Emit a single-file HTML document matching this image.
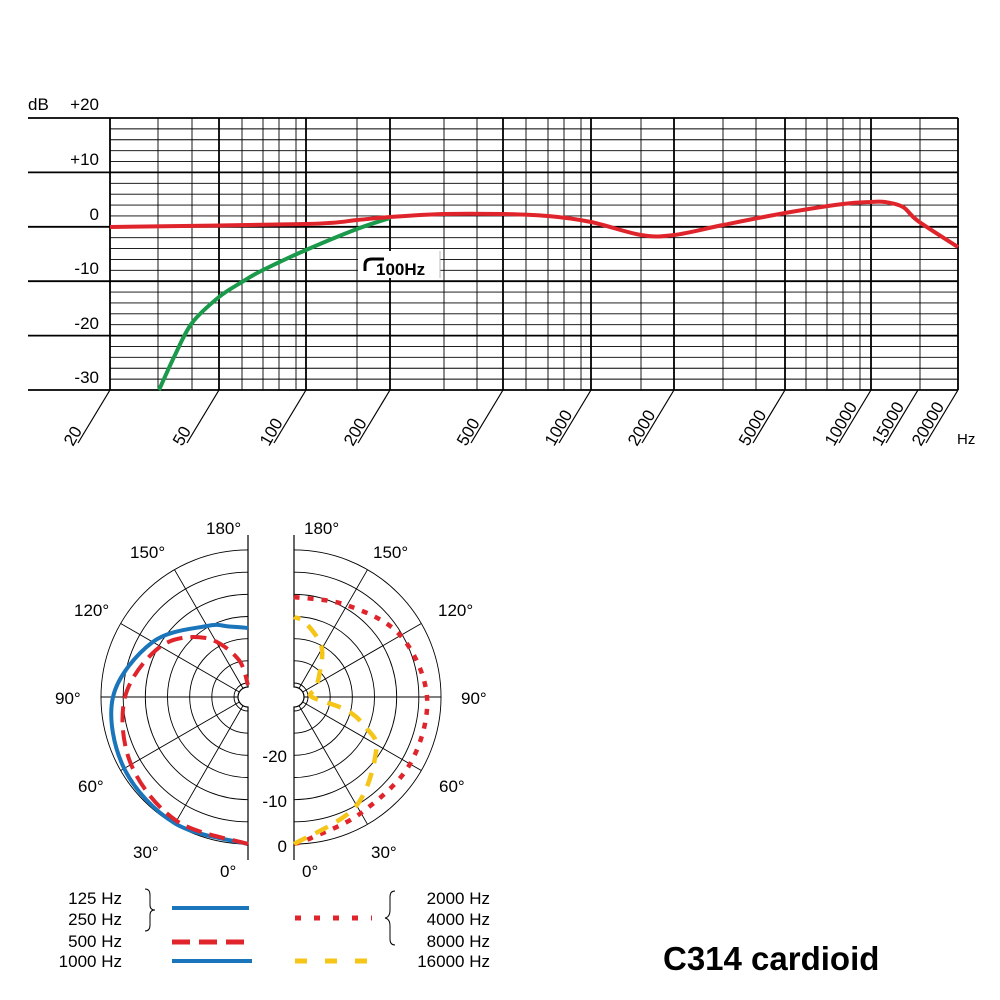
<!DOCTYPE html>
<html><head><meta charset="utf-8"><style>
body{margin:0;background:#fff}
svg{display:block;font-family:"Liberation Sans",Arial,sans-serif}
</style></head><body>
<svg id="s" width="1000" height="1000" viewBox="0 0 1000 1000" xmlns="http://www.w3.org/2000/svg">
<g id="g"></g>
<g font-size="17">
<text x="28" y="110">dB</text>
<text x="99" y="110" text-anchor="end">+20</text>
<text x="99" y="165" text-anchor="end">+10</text>
<text x="99" y="220" text-anchor="end">0</text>
<text x="99" y="274" text-anchor="end">-10</text>
<text x="99" y="329" text-anchor="end">-20</text>
<text x="99" y="383" text-anchor="end">-30</text>
<text x="957" y="444" font-size="15">Hz</text>
</g>
<text x="663" y="970" font-size="33" font-weight="bold">C314 cardioid</text>
<g font-size="17">
<text x="122" y="904" text-anchor="end">125 Hz</text>
<text x="122" y="925" text-anchor="end">250 Hz</text>
<text x="122" y="947" text-anchor="end">500 Hz</text>
<text x="122" y="967" text-anchor="end">1000 Hz</text>
<text x="490" y="904" text-anchor="end">2000 Hz</text>
<text x="490" y="925" text-anchor="end">4000 Hz</text>
<text x="490" y="947" text-anchor="end">8000 Hz</text>
<text x="490" y="967" text-anchor="end">16000 Hz</text>
<text x="206" y="534">180°</text><text x="130" y="558">150°</text><text x="74" y="616">120°</text>
<text x="55" y="704">90°</text><text x="78" y="792">60°</text><text x="133" y="858">30°</text><text x="220" y="877">0°</text>
<text x="304" y="534">180°</text><text x="373" y="558">150°</text><text x="438" y="616">120°</text>
<text x="461" y="704">90°</text><text x="439" y="792">60°</text><text x="371" y="858">30°</text><text x="302" y="877">0°</text>
<text x="287" y="762" text-anchor="end">-20</text><text x="287" y="807" text-anchor="end">-10</text><text x="287" y="852" text-anchor="end">0</text>
</g>
<path d="M145,889 q5,0 5,6 v10 q0,5 5,5 q-5,0 -5,5 v10 q0,6 -5,6" fill="none" stroke="#000" stroke-width="1"/>
<path d="M395,891 q-5,0 -5,6 v13 q0,7 -5,8 q5,1 5,8 v13 q0,6 5,6" fill="none" stroke="#000" stroke-width="1"/>
<line x1="172" y1="908" x2="249" y2="908" stroke="#1a75bb" stroke-width="4"/>
<line x1="172" y1="942" x2="252" y2="942" stroke="#e0242b" stroke-width="5" stroke-dasharray="18,9"/>
<line x1="172" y1="961" x2="252" y2="961" stroke="#1a75bb" stroke-width="4"/>
<line x1="295" y1="918" x2="372" y2="918" stroke="#e0242b" stroke-width="5" stroke-dasharray="6,13"/>
<line x1="295" y1="961" x2="372" y2="961" stroke="#f5c518" stroke-width="5" stroke-dasharray="12,18"/>
</svg>
<script>
var g=document.getElementById('g'),h='';
function L(a,b,c,d,w){h+='<line x1="'+a+'" y1="'+b+'" x2="'+c+'" y2="'+d+'" stroke="#000" stroke-width="'+w+'"/>';}
for(var i=0;i<=25;i++){var y=118+i*272/25;if(i%5==0)L(28,y,958,y,1.8);else L(110,y,958,y,0.9);}
var maj=[110,219,306,390,503,591,674,785,871,958];
var mn=[158,192,242,263,279,296,357,444,477,526,548,564,581,641,723,756,806,827,843,860,920];
mn.forEach(function(x){L(x,118,x,390,0.9)});
maj.forEach(function(x){L(x,118,x,390,1.8)});
[110,219,306,390,503,591,674,785,871,918,958].forEach(function(x){L(x,390,x-32,443,1.2)});
var lab=[[110,'20'],[219,'50'],[306,'100'],[390,'200'],[503,'500'],[591,'1000'],[674,'2000'],[785,'5000'],[871,'10000'],[918,'15000'],[958,'20000']];
lab.forEach(function(p){var x=p[0]-37,y=447;h+='<text x="'+x+'" y="'+y+'" font-size="17" transform="rotate(-60 '+x+' '+y+')">'+p[1]+'</text>';});
function smooth(pts){var d='M'+pts[0][0]+','+pts[0][1];for(var i=0;i<pts.length-1;i++){var p0=pts[Math.max(i-1,0)],p1=pts[i],p2=pts[i+1],p3=pts[Math.min(i+2,pts.length-1)];
d+=' C'+(p1[0]+(p2[0]-p0[0])/6).toFixed(1)+','+(p1[1]+(p2[1]-p0[1])/6).toFixed(1)+' '+(p2[0]-(p3[0]-p1[0])/6).toFixed(1)+','+(p2[1]-(p3[1]-p1[1])/6).toFixed(1)+' '+p2[0].toFixed(1)+','+p2[1].toFixed(1);}return d;}
h+='<rect x="358" y="251" width="82" height="27" fill="#fff"/><line x1="440" y1="251" x2="440" y2="278" stroke="#bbb" stroke-width="1"/>';
h+='<path d="M365,271 L365,265 Q365,259 372,259 L384,259" fill="none" stroke="#000" stroke-width="3"/>';
h+='<text x="376" y="275" font-size="17" font-weight="bold">100Hz</text>';
h+='<path d="'+smooth([[159,390],[175,355],[192,323],[219,297],[242,282],[263,270],[306,250],[357,229],[390,218]])+'" fill="none" stroke="#1a9a4a" stroke-width="4"/>';
h+='<path d="'+smooth([[110,227],[306,224],[357,220],[390,217],[444,214],[503,214],[548,216],[591,222],[641,235],[674,235],[723,225],[785,213],[843,204],[871,202],[885,202],[903,207],[918,221],[958,247]])+'" fill="none" stroke="#e0242b" stroke-width="4"/>';
function half(cx,s){var cy=697;for(var k=0;k<7;k++){var r=14+k*22.17;h+='<path d="M'+cx+','+(cy-r)+' A'+r+','+r+' 0 0 '+(s<0?0:1)+' '+cx+','+(cy+r)+'" fill="none" stroke="#000" stroke-width="0.9"/>';}
for(var a=30;a<180;a+=30){var t=a*Math.PI/180;L(cx+s*10*Math.sin(t),cy+10*Math.cos(t),cx+s*147*Math.sin(t),cy+147*Math.cos(t),0.9);}
h+='<path d="M'+cx+',535 L'+cx+','+(cy-10)+' A10,10 0 0 '+(s<0?0:1)+' '+cx+','+(cy+10)+' L'+cx+',860" fill="none" stroke="#000" stroke-width="1.2"/>';}
half(248,-1);half(294,1);
function pol(cx,s,data){var pts=[];for(var i=0;i<data.length;i++){var t=data[i][0]*Math.PI/180,r=data[i][1];pts.push([cx+s*r*Math.sin(t),697+r*Math.cos(t)]);}return smooth(pts);}
h+='<path d="'+pol(248,-1,[[0,147],[30,146],[60,143],[90,135],[120,110],[150,82],[165,73],[180,69]])+'" fill="none" stroke="#1a75bb" stroke-width="4"/>';
h+='<path d="'+pol(248,-1,[[0,147],[30,143],[60,135],[90,123],[120,101],[144,73],[165,40],[180,12]])+'" fill="none" stroke="#e0242b" stroke-width="4" stroke-dasharray="16,8"/>';
h+='<path d="'+pol(294,1,[[0,147],[7,142],[30,134],[60,134],[90,133],[120,123],[150,106],[180,100]])+'" fill="none" stroke="#e0242b" stroke-width="4.5" stroke-dasharray="6,8"/>';
h+='<path d="'+pol(294,1,[[0,147],[29,126],[57,98],[67,78],[76,54],[90,18],[110,22],[129,32],[151,57],[171,75],[180,80]])+'" fill="none" stroke="#f5c518" stroke-width="4.5" stroke-dasharray="14,10"/>';
g.innerHTML=h;
</script>
</body></html>
